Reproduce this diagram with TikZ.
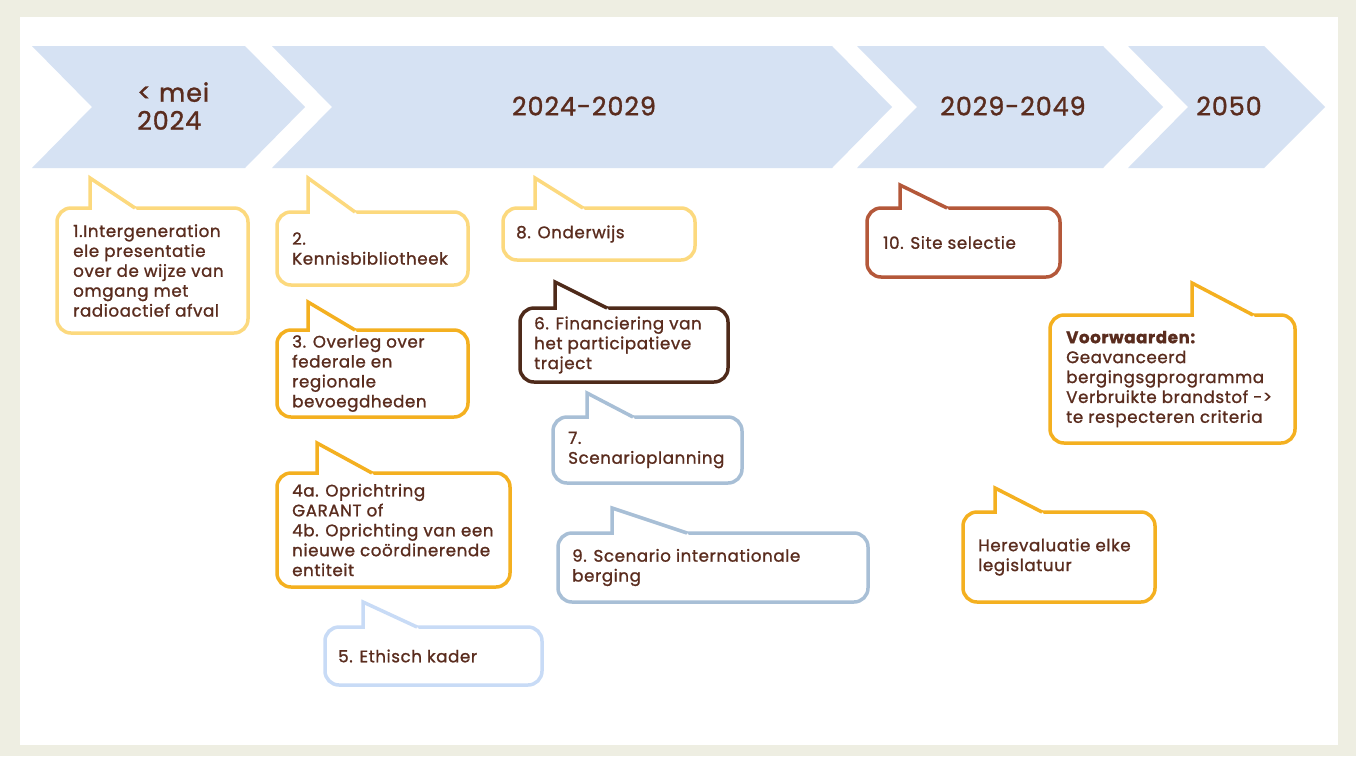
\documentclass[tikz,border=0pt]{standalone}
\usepackage{fontspec}
\setmainfont{Poppins}[LetterSpace=3.5, FakeBold=1.2]
\usetikzlibrary{calc}
\definecolor{bgbeige}{HTML}{EEEEE2}
\definecolor{chev}{HTML}{D6E2F3}
\definecolor{txt}{HTML}{5A2C1E}
\definecolor{yelL}{HTML}{FCD97E}
\definecolor{orng}{HTML}{F4B020}
\definecolor{brnD}{HTML}{4E2A1A}
\definecolor{bluG}{HTML}{A8BFD6}
\definecolor{bluL}{HTML}{C8DBF6}
\definecolor{rust}{HTML}{B4583A}
\tikzset{
  cb/.style={draw=#1, line width=3.5pt, rounded corners=14pt, fill=white,
    outer sep=0pt, inner sep=0pt, anchor=north west},
  ct/.style={anchor=west, align=left, inner sep=0pt, text=txt,
    font=\fontsize{16.7}{19.9}\selectfont},
  hdr/.style={align=left, inner sep=0pt, text=txt,
    font=\fontsize{25.5}{28}\selectfont},
}
\newcommand\ctail[5]{%
  \fill[white] ($(#1.north west)+(#3,2.2)$) -- ($(#1.north west)+(#3,-#5)$)
     -- ($(#1.north west)+(#4,0)$) -- ($(#1.north west)+(#4+2,2.2)$) -- cycle;
  \draw[#2, line width=3.5pt, line join=miter]
     ($(#1.north west)+(#3,1.8)$) -- ($(#1.north west)+(#3,-#5)$)
     -- ($(#1.north west)+(#4,0)$);}
\begin{document}
\begin{tikzpicture}[x=1pt,y=-1pt]
\useasboundingbox (0,0) rectangle (1356,756);
\fill[bgbeige] (0,0) rectangle (1356,756);
\fill[white] (20,17) rectangle (1338,745);
% chevrons
\fill[chev] (32,46) -- (245,46) -- (305,107) -- (245,168) -- (32,168) -- (92,107) -- cycle;
\fill[chev] (272,46) -- (832,46) -- (892,107) -- (832,168) -- (272,168) -- (332,107) -- cycle;
\fill[chev] (857,46) -- (1103,46) -- (1163,107) -- (1103,168) -- (857,168) -- (917,107) -- cycle;
\fill[chev] (1128,46) -- (1264,46) -- (1325,107) -- (1264,168) -- (1128,168) -- (1188,107) -- cycle;
\node[hdr, anchor=west] (h1) at (137,106) {< mei\\2024};
\node[hdr] (h2) at (584,106) {2024-2029};
\node[hdr] (h3) at (1013,106) {2029-2049};
\node[hdr] (h4) at (1229,106) {2050};
% callouts
\node[cb=yelL, minimum width=191, minimum height=125] (b1) at (57,208) {};
\ctail{b1}{yelL}{33}{78}{30}
\node[ct] (t1) at ([xshift=16]b1.west) {1.Intergeneration\\ele presentatie\\over de wijze van\\omgang met\\radioactief afval};

\node[cb=yelL, minimum width=191, minimum height=73] (b2) at (277,212) {};
\ctail{b2}{yelL}{31}{78}{34}
\node[ct] (t2) at ([xshift=15]b2.west) {2.\\Kennisbibliotheek};

\node[cb=orng, minimum width=191, minimum height=87] (b3) at (277,330) {};
\ctail{b3}{orng}{31}{78}{28}
\node[ct] (t3) at ([xshift=15]b3.west) {3. Overleg over\\federale en\\regionale\\bevoegdheden};

\node[cb=orng, minimum width=233, minimum height=114] (b4) at (277,473) {};
\ctail{b4}{orng}{40}{95}{30}
\node[ct] (t4) at ([xshift=15]b4.west) {4a. Oprichtring\\GARANT of\\4b. Oprichting van een\\nieuwe coördinerende\\entiteit};

\node[cb=bluL, minimum width=217, minimum height=58] (b5) at (325,627) {};
\ctail{b5}{bluL}{38}{92}{25}
\node[ct] (t5) at ([xshift=13]b5.west) {5. Ethisch kader};

\node[cb=yelL, minimum width=192, minimum height=52] (b8) at (503,208) {};
\ctail{b8}{yelL}{32}{80}{30}
\node[ct] (t8) at ([xshift=13]b8.west) {8. Onderwijs};

\node[cb=brnD, minimum width=208, minimum height=74] (b6) at (520,308) {};
\ctail{b6}{brnD}{35}{87}{26}
\node[ct] (t6) at ([xshift=14]b6.west) {6. Financiering van\\het participatieve\\traject};

\node[cb=bluG, minimum width=189, minimum height=66] (b7) at (553,417) {};
\ctail{b7}{bluG}{34}{80}{24}
\node[ct] (t7) at ([xshift=15]b7.west) {7.\\Scenarioplanning};

\node[cb=bluG, minimum width=310, minimum height=69] (b9) at (558,533) {};
\ctail{b9}{bluG}{54}{129}{25}
\node[ct] (t9) at ([xshift=14]b9.west) {9. Scenario internationale\\berging};

\node[cb=rust, minimum width=193, minimum height=69] (b10) at (867,208) {};
\ctail{b10}{rust}{33}{80}{23}
\node[ct] (t10) at ([xshift=16]b10.west) {10. Site selectie};

\node[cb=orng, minimum width=245, minimum height=128] (bv) at (1050,315) {};
\ctail{bv}{orng}{142}{203}{32}
\node[ct] (tv) at ([xshift=16]bv.west) {\textbf{Voorwaarden:}\\Geavanceerd\\bergingsgprogramma\\Verbruikte brandstof ->\\te respecteren criteria};

\node[cb=orng, minimum width=192, minimum height=90] (bh) at (963,512) {};
\ctail{bh}{orng}{32}{79}{24}
\node[ct] (th) at ([xshift=15]bh.west) {Herevaluatie elke\\legislatuur};
\end{tikzpicture}
\end{document}
